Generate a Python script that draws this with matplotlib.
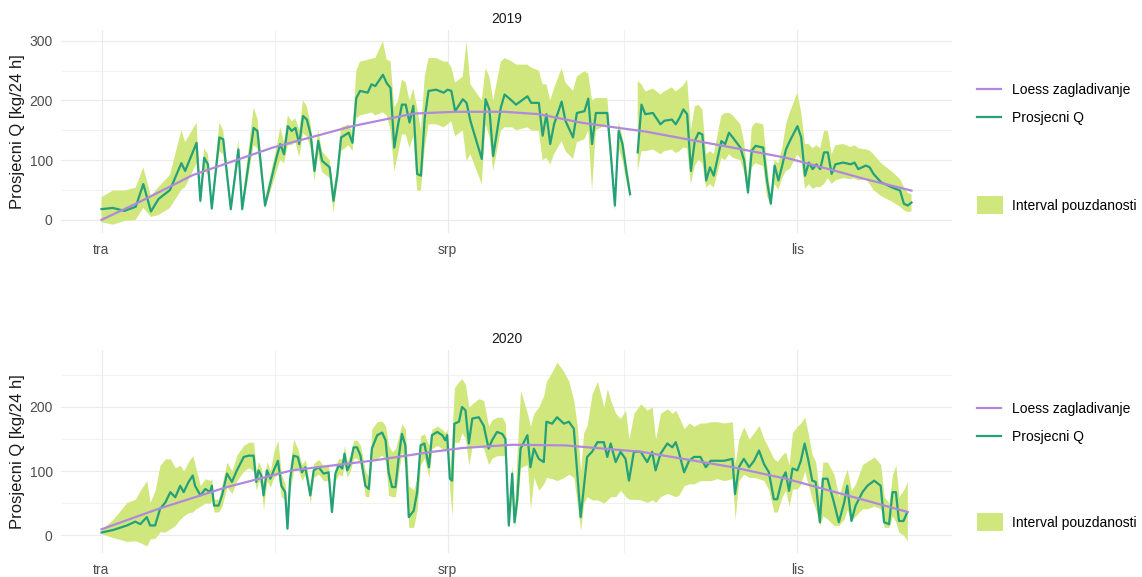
import numpy as np
import matplotlib
matplotlib.use('Agg')
from matplotlib import pyplot as plt
from matplotlib.lines import Line2D
from matplotlib.patches import Patch

plt.rcParams['font.family'] = ['Liberation Sans', 'DejaVu Sans']

# Days counted from 1 April; month ticks (tra, srp, lis)
tick_days = [0, 91, 183]
tick_labels = ['tra', 'srp', 'lis']
minor_days = [45.5, 137.5]

# ---- 2019 : day, mean Q, lower CI, upper CI ----
d19 = [0, 3, 6, 9, 11, 13, 15, 18, 21, 22, 25, 26, 27, 28, 29, 31, 32, 34, 36, 37,
       40, 41, 43, 46, 47, 48, 49, 50, 51, 52, 53, 54, 55, 56, 57, 58, 60, 61, 62, 63,
       65, 66, 67, 68, 70, 71, 72, 74, 75, 76, 77, 78, 79, 80, 81, 82, 83, 84, 85, 86,
       88, 90, 91, 92, 93, 95, 96, 97, 100, 101, 102, 103, 105, 106, 108, 109, 112, 113, 115, 116,
       117, 118, 119, 121, 122, 124, 125, 127, 128, 129, 130, 133, 134, 135, 136, 137, 138, 139, 140, 141,
       142, 143, 145, 147, 148, 150, 151, 152, 153, 154, 155, 156, 157, 158, 159, 160, 161, 163, 164, 165,
       166, 168, 169, 170, 171, 172, 174, 175, 176, 177, 178, 179, 180, 181, 183, 184, 185, 186, 187, 188,
       189, 190, 191, 192, 193, 195, 197, 198, 199, 201, 202, 203, 205, 208, 210, 211, 212, 213]
q19 = [18, 20, 15, 22, 60, 14, 35, 50, 95, 82, 129, 32, 104, 93, 19, 138, 135, 18, 118, 18,
       154, 149, 24, 104, 127, 110, 157, 149, 154, 127, 174, 168, 143, 82, 132, 99, 88, 32, 75, 138,
       146, 129, 204, 216, 213, 227, 224, 243, 229, 221, 121, 160, 193, 193, 163, 191, 77, 74, 171, 216,
       218, 213, 218, 216, 182, 202, 196, 166, 102, 202, 185, 107, 188, 210, 199, 193, 207, 196, 196, 141,
       177, 127, 160, 198, 166, 138, 179, 182, 203, 127, 179, 179, 104, 24, 149, 127, 82, 43, np.nan, 113,
       193, 177, 179, 160, 166, 168, 160, 171, 185, 177, 82, 132, 146, 143, 66, 88, 74, 132, 127, 146,
       138, 121, 99, 46, 116, 124, 121, 66, 27, 91, 66, 91, 118, 132, 157, 138, 74, 96, 85, 93,
       85, 113, 113, 77, 93, 96, 93, 96, 85, 91, 88, 77, 63, 54, 49, 27, 24, 29]
lo19 = [-4, -8, -2, 0, 20, 5, 8, 20, 50, 55, 95, 25, 85, 75, 15, 115, 110, 12, 100, 12,
        125, 120, 18, 80, 100, 95, 125, 125, 130, 105, 145, 140, 120, 65, 110, 80, 70, 12, 60, 115,
        125, 115, 170, 175, 178, 180, 175, 180, 175, 150, 82, 110, 143, 143, 120, 140, 49, 49, 120, 160,
        160, 155, 160, 165, 140, 150, 99, 110, 60, 160, 140, 82, 149, 155, 155, 150, 155, 150, 149, 100,
        104, 93, 110, 132, 115, 102, 130, 135, 150, 49, 150, 160, 90, 15, 120, 100, 65, 35, np.nan, 82,
        115, 115, 118, 110, 115, 118, 112, 115, 121, 120, 60, 90, 100, 95, 54, 60, 54, 104, 100, 110,
        104, 100, 80, 38, 88, 95, 90, 40, 24, 60, 50, 70, 82, 85, 110, 100, 52, 60, 52, 55,
        55, 60, 70, 60, 66, 70, 68, 70, 66, 68, 60, 50, 40, 30, 22, 16, 13, 14]
hi19 = [38, 49, 49, 54, 88, 40, 55, 75, 150, 130, 163, 45, 120, 110, 30, 163, 150, 30, 135, 30,
        188, 170, 35, 120, 155, 130, 175, 165, 170, 150, 200, 190, 160, 100, 150, 115, 100, 50, 90, 155,
        160, 145, 250, 265, 268, 270, 271, 299, 268, 266, 188, 200, 235, 230, 200, 220, 188, 150, 240, 271,
        271, 265, 265, 255, 230, 240, 299, 227, 200, 254, 240, 200, 265, 271, 265, 260, 260, 255, 250, 227,
        227, 200, 220, 254, 230, 216, 240, 249, 245, 200, 204, 204, 130, 40, 165, 140, 100, 55, np.nan, 232,
        227, 215, 220, 210, 215, 222, 215, 220, 225, 235, 150, 190, 193, 185, 110, 115, 110, 175, 179, 179,
        175, 160, 130, 70, 155, 163, 160, 95, 40, 100, 95, 120, 160, 180, 213, 180, 127, 127, 120, 125,
        120, 149, 149, 110, 125, 127, 122, 125, 120, 118, 116, 110, 95, 80, 68, 55, 45, 43]
loess_d19 = [0, 10, 24, 45, 66, 82, 93, 106, 115, 126, 136, 143, 154, 166, 180, 193, 201, 213]
loess_q19 = [0, 30, 75, 121, 157, 178, 181, 181, 177, 163, 154, 148, 135, 121, 104, 82, 68, 49]

# ---- 2020 : day, mean Q, lower CI, upper CI ----
d20 = [0, 3.1, 6.7, 8.9, 10.2, 11.9, 12.8, 14.1, 15.4, 16.8, 18.1, 19.4, 20.7, 21.6, 22.9, 24.0, 24.6, 26.0, 27.3, 28.6,
       29.0, 29.6, 30.8, 31.7, 33.0, 34.3, 35.6, 37.4, 38.7, 40.0, 40.7, 41.3, 42.0, 42.6, 43.5, 44.4, 45.3, 46.4, 47.3, 48.3,
       48.9, 49.6, 50.5, 51.6, 52.7, 53.6, 54.9, 55.8, 57.1, 58.4, 59.7, 60.6, 61.5, 62.4, 63.3, 63.9, 64.6, 65.4, 66.3, 67.2,
       68.1, 69.4, 70.3, 71.1, 72.5, 73.8, 74.7, 75.5, 76.4, 77.3, 78.2, 79.0, 79.9, 80.8, 82.1, 83.0, 83.9, 84.9, 86.1, 86.9,
       88.3, 89.6, 90.4, 90.9, 91.6, 92.2, 92.8, 94.0, 94.8, 95.7, 96.6, 97.5, 99.2, 100.5, 101.8, 102.7, 104.0, 105.4, 106.2, 107.1,
       108.0, 108.6, 109.3, 110.2, 112.0, 112.8, 113.7, 115.0, 116.3, 117.0, 118.5, 119.8, 121.6, 122.9, 124.2, 125.1, 126.0, 126.8, 127.7, 129.0,
       130.4, 132.1, 133.0, 133.9, 135.2, 136.5, 137.8, 138.7, 140.0, 141.8, 143.5, 144.8, 145.7, 147.0, 148.8, 150.1, 151.0, 151.8, 153.2, 154.5,
       155.8, 157.5, 158.9, 160.2, 161.9, 163.7, 165.9, 166.6, 167.6, 168.9, 170.3, 171.6, 172.9, 174.2, 175.5, 176.8, 177.7, 179.0, 179.9, 180.8,
       181.7, 183.0, 183.9, 184.9, 185.8, 186.9, 187.8, 188.9, 189.7, 190.9, 192.6, 193.9, 195.3, 196.1, 197.2, 198.3, 200.1, 201.4, 203.2, 204.9,
       205.8, 207.1, 208.0, 208.9, 209.7, 210.9, 211.9]
q20 = [4, 8, 15, 21, 17, 28, 15, 15, 41, 51, 67, 59, 77, 67, 83, 93, 77, 62, 72, 67,
       77, 46, 46, 62, 96, 83, 101, 122, 124, 124, 83, 101, 93, 62, 101, 88, 101, 116, 77, 67,
       10, 88, 124, 122, 98, 106, 62, 101, 106, 96, 98, 36, 96, 109, 104, 127, 101, 111, 137, 137,
       124, 77, 72, 135, 156, 160, 148, 98, 75, 75, 124, 158, 140, 28, 38, 67, 140, 143, 106, 156,
       161, 156, 148, 156, 88, 85, 174, 177, 200, 195, 143, 182, 184, 171, 135, 148, 161, 158, 150, 15,
       96, 20, 54, 135, 156, 106, 135, 119, 114, 177, 174, 184, 174, 177, 166, 98, 28, 72, 122, 130,
       145, 145, 122, 143, 114, 130, 119, 85, 130, 130, 114, 130, 101, 127, 143, 137, 145, 130, 98, 116,
       122, 122, 106, 116, 116, 116, 119, 64, 106, 119, 106, 116, 132, 111, 98, 56, 56, 88, 98, 69,
       104, 101, 116, 143, 119, 85, 83, 20, 88, 88, 51, 20, 51, 77, 22, 46, 67, 77, 85, 77,
       20, 17, 67, 67, 22, 22, 36]
lo20 = [2, -4, -10, -9, -12, -17, -6, -5, 5, 5, 10, 15, 25, 30, 35, 36, 40, 45, 50, 50,
        55, 36, 36, 45, 75, 65, 85, 100, 105, 100, 70, 85, 75, 40, 85, 75, 90, 95, 60, 55,
        5, 70, 100, 105, 85, 95, 50, 90, 95, 85, 85, 30, 85, 95, 92, 110, 90, 100, 120, 120,
        110, 60, 60, 115, 120, 125, 115, 62, 60, 60, 100, 130, 110, 12, 12, 40, 110, 120, 90, 135,
        140, 135, 130, 140, 70, 30, 145, 145, 160, 150, 109, 140, 140, 135, 110, 120, 124, 124, 124, 10,
        60, 12, 40, 105, 110, 40, 90, 70, 80, 90, 88, 85, 90, 95, 90, 50, 7, 50, 60, 55,
        55, 50, 55, 60, 60, 70, 60, 56, 56, 55, 51, 55, 51, 60, 65, 62, 60, 62, 77, 80,
        80, 85, 85, 85, 88, 85, 88, 25, 85, 95, 90, 90, 88, 85, 70, 36, 36, 60, 70, 45,
        72, 72, 80, 100, 80, 55, 40, 15, 30, 25, 15, 15, 25, 40, 22, 30, 41, 41, 45, 41,
        12, 12, 30, 20, 4, 0, -9]
hi20 = [9, 25, 51, 56, 70, 85, 51, 70, 109, 119, 119, 105, 109, 100, 115, 124, 110, 77, 88, 85,
        88, 56, 56, 80, 114, 100, 125, 140, 145, 145, 100, 115, 105, 80, 115, 100, 130, 148, 95, 80,
        25, 110, 150, 135, 110, 118, 75, 112, 118, 108, 110, 50, 108, 120, 118, 140, 115, 125, 148, 148,
        140, 100, 90, 166, 177, 178, 170, 140, 130, 135, 155, 174, 165, 77, 70, 90, 155, 158, 140, 165,
        170, 165, 160, 165, 100, 160, 230, 240, 244, 235, 200, 205, 213, 210, 170, 180, 184, 184, 175, 30,
        110, 40, 130, 226, 190, 170, 190, 200, 218, 240, 255, 270, 255, 240, 210, 170, 100, 160, 171, 220,
        240, 200, 229, 210, 190, 182, 195, 150, 190, 205, 195, 200, 150, 190, 197, 190, 195, 185, 166, 175,
        170, 175, 175, 177, 177, 175, 177, 110, 150, 169, 150, 160, 171, 150, 135, 119, 115, 125, 130, 110,
        160, 170, 175, 184, 160, 125, 114, 60, 114, 114, 95, 60, 90, 103, 70, 80, 110, 115, 122, 110,
        60, 50, 95, 109, 60, 70, 83]
loess_d20 = [0, 15, 33, 50, 71, 87, 95, 108, 122, 134, 142, 153, 166, 180, 193, 201, 212]
loess_q20 = [9, 41, 75, 101, 116, 130, 136, 141, 140, 134, 130, 119, 106, 88, 67, 54, 36]

panels = [
    ('2019', d19, q19, lo19, hi19, loess_d19, loess_q19, [0, 100, 200, 300], (-22, 318)),
    ('2020', d20, q20, lo20, hi20, loess_d20, loess_q20, [0, 100, 200], (-28, 289)),
]

c_loess = '#B089DC'
c_mean = '#23A17A'
c_fill = '#CFE77C'
c_grid = '#EBEBEB'
c_text = '#4D4D4D'

fig = plt.figure(figsize=(11.42, 5.77), dpi=100)
W, H = 1142, 577
boxes = [(61, 30, 952, 233), (61, 350, 952, 553)]
legend_y = [(104, 205), (423, 522)]

for (title, d, q, lo, hi, ld, lq, yt, ylim), (x0, y0, x1, y1), (ly, fy) in zip(panels, boxes, legend_y):
    ax = fig.add_axes([x0 / W, 1 - y1 / H, (x1 - x0) / W, (y1 - y0) / H])
    d = np.array(d, dtype=float)
    ax.fill_between(d, np.array(lo, dtype=float), np.array(hi, dtype=float),
                    color=c_fill, linewidth=0, zorder=2)
    ax.plot(d, np.array(q, dtype=float), color=c_mean, linewidth=1.6, zorder=3)
    ax.plot(ld, lq, color=c_loess, linewidth=1.6, zorder=4)

    ax.set_xlim(-10.65, 223.65)
    ax.set_ylim(*ylim)
    ax.set_xticks(tick_days)
    ax.set_xticklabels(tick_labels)
    ax.set_xticks(minor_days, minor=True)
    ax.set_yticks(yt)
    ax.set_yticks([50, 150, 250], minor=True)
    ax.grid(True, which='major', color=c_grid, linewidth=0.8)
    ax.grid(True, which='minor', color=c_grid, linewidth=0.5)
    ax.set_axisbelow(True)
    for s in ax.spines.values():
        s.set_visible(False)
    ax.tick_params(which='both', length=0)
    ax.tick_params(axis='x', pad=7, labelsize=10, labelcolor=c_text)
    ax.tick_params(axis='y', pad=6, labelsize=10, labelcolor=c_text)
    ax.set_title(title, fontsize=10, color='#1A1A1A', pad=5)
    ax.set_ylabel('Prosjecni Q [kg/24 h]', fontsize=12, color='#1A1A1A', labelpad=3)

    h_lines = [Line2D([], [], color=c_loess, linewidth=1.6),
               Line2D([], [], color=c_mean, linewidth=1.6)]
    fig.legend(h_lines, ['Loess zagladivanje', 'Prosjecni Q'], loc='center left',
               bbox_to_anchor=(977 / W, 1 - ly / H), frameon=False, fontsize=10,
               handlelength=1.7, handletextpad=0.8, labelspacing=1.0, borderpad=0,
               borderaxespad=0)
    fig.legend([Patch(facecolor=c_fill, edgecolor='none')], ['Interval pouzdanosti'],
               loc='center left', bbox_to_anchor=(977 / W, 1 - fy / H), frameon=False,
               fontsize=10, handlelength=1.9, handleheight=1.7, handletextpad=0.6,
               borderpad=0, borderaxespad=0)

fig.savefig('out.png', dpi=100)
